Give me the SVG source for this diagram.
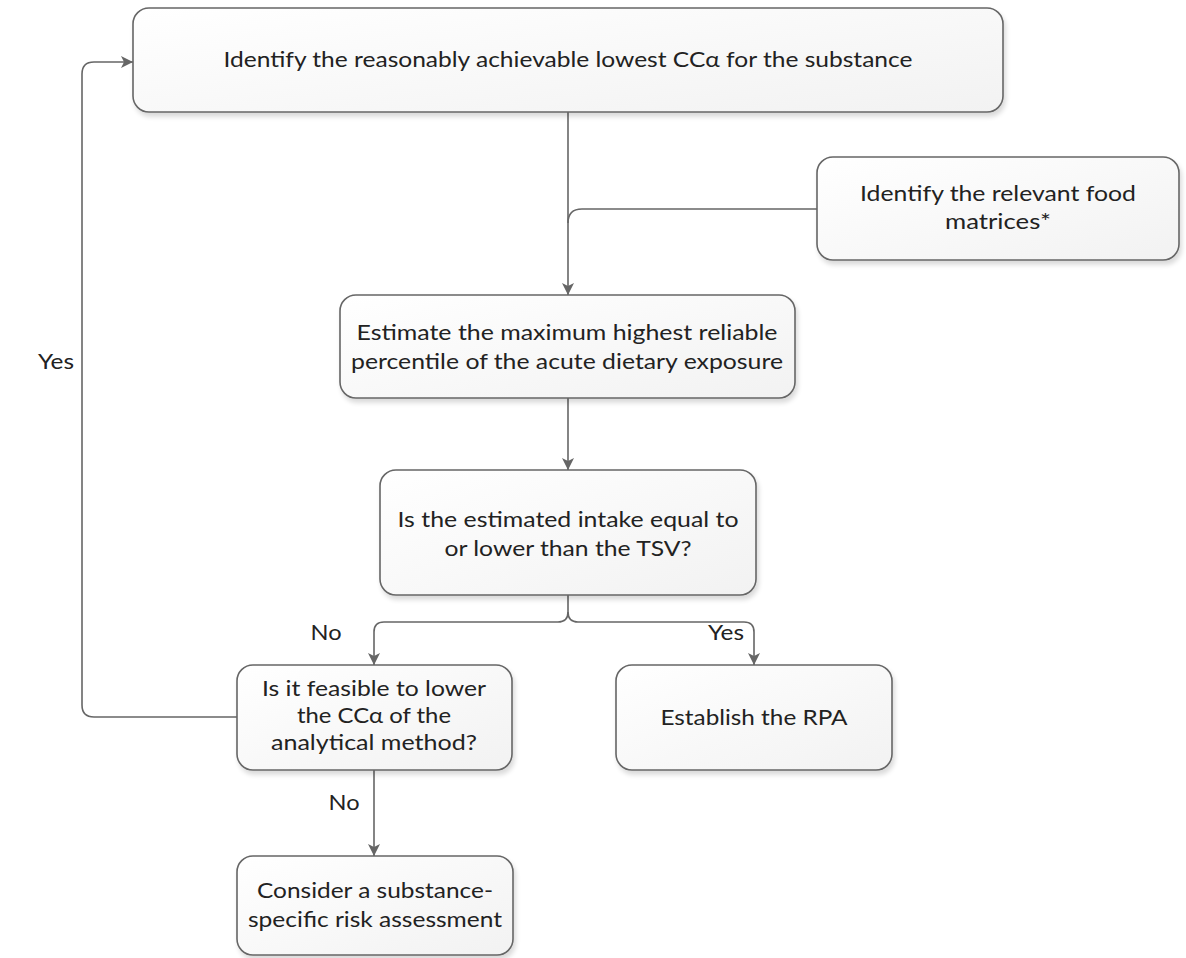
<svg xmlns="http://www.w3.org/2000/svg" width="1186" height="958" viewBox="0 0 1186 958">
<defs>
<linearGradient id="g" x1="0" y1="0" x2="1" y2="1">
<stop offset="0" stop-color="#ffffff"/>
<stop offset="1" stop-color="#f2f2f2"/>
</linearGradient>
<filter id="sh" x="-5%" y="-5%" width="115%" height="125%">
<feGaussianBlur in="SourceAlpha" stdDeviation="2.5"/>
<feOffset dx="2" dy="4"/>
<feComponentTransfer><feFuncA type="linear" slope="0.15"/></feComponentTransfer>
<feMerge><feMergeNode/><feMergeNode in="SourceGraphic"/></feMerge>
</filter>
<marker id="ah" viewBox="0 0 12 12" refX="12" refY="6" markerWidth="12" markerHeight="12" markerUnits="userSpaceOnUse" orient="auto">
<path d="M0,0 L12,6 L0,12 L3,6 Z" fill="#666666"/>
</marker>
</defs>
<style>
.box{fill:url(#g);stroke:#666666;stroke-width:1.6;filter:url(#sh)}
.t{font-family:Lato,"Open Sans","Liberation Sans",sans-serif;font-size:22px;fill:#222222;text-anchor:middle}
.c{fill:none;stroke:#666666;stroke-width:1.6}
</style>
<rect width="1186" height="958" fill="#ffffff"/>
<g id="connectors">
<path class="c" d="M568,112 V295" marker-end="url(#ah)"/>
<path class="c" d="M817,209 H582 Q568,209 568,223"/>
<path class="c" d="M568,398 V470" marker-end="url(#ah)"/>
<path class="c" d="M568,595 V612 Q568,622 558,622 H384 Q374,622 374,632 V665" marker-end="url(#ah)"/>
<path class="c" d="M568,612 Q568,622 578,622 H744 Q754,622 754,632 V665" marker-end="url(#ah)"/>
<path class="c" d="M237,717 H94 Q82,717 82,705 V74 Q82,62 94,62 H133" marker-end="url(#ah)"/>
<path class="c" d="M374,770 V856" marker-end="url(#ah)"/>
</g>
<g id="labels">
<text class="t" x="56" y="369" textLength="36" lengthAdjust="spacingAndGlyphs">Yes</text>
<text class="t" x="326" y="640" textLength="31" lengthAdjust="spacingAndGlyphs">No</text>
<text class="t" x="726" y="640" textLength="36" lengthAdjust="spacingAndGlyphs">Yes</text>
<text class="t" x="344" y="810" textLength="31" lengthAdjust="spacingAndGlyphs">No</text>
</g>
<g id="n1"><rect class="box" x="133" y="8" width="870" height="104" rx="16"/>
<text class="t" x="568" y="67" textLength="689" lengthAdjust="spacingAndGlyphs">Identify the reasonably achievable lowest CCα for the substance</text></g>
<g id="n2"><rect class="box" x="817" y="157" width="362" height="103" rx="16"/>
<text class="t" x="998" y="201" textLength="276" lengthAdjust="spacingAndGlyphs">Identify the relevant food</text>
<text class="t" x="998" y="229" textLength="106" lengthAdjust="spacingAndGlyphs">matrices*</text></g>
<g id="n3"><rect class="box" x="340" y="295" width="455" height="103" rx="16"/>
<text class="t" x="567" y="340" textLength="421" lengthAdjust="spacingAndGlyphs">Estimate the maximum highest reliable</text>
<text class="t" x="567" y="369" textLength="432" lengthAdjust="spacingAndGlyphs">percentile of the acute dietary exposure</text></g>
<g id="n4"><rect class="box" x="380" y="470" width="376" height="125" rx="16"/>
<text class="t" x="568" y="527" textLength="341" lengthAdjust="spacingAndGlyphs">Is the estimated intake equal to</text>
<text class="t" x="568" y="556" textLength="247" lengthAdjust="spacingAndGlyphs">or lower than the TSV?</text></g>
<g id="n5"><rect class="box" x="237" y="665" width="275" height="105" rx="16"/>
<text class="t" x="374" y="696" textLength="224" lengthAdjust="spacingAndGlyphs">Is it feasible to lower</text>
<text class="t" x="374" y="723" textLength="154" lengthAdjust="spacingAndGlyphs">the CCα of the</text>
<text class="t" x="374" y="750" textLength="206" lengthAdjust="spacingAndGlyphs">analytical method?</text></g>
<g id="n6"><rect class="box" x="616" y="665" width="276" height="105" rx="16"/>
<text class="t" x="754" y="725" textLength="187" lengthAdjust="spacingAndGlyphs">Establish the RPA</text></g>
<g id="n7"><rect class="box" x="237" y="856" width="276" height="99" rx="16"/>
<text class="t" x="375" y="898" textLength="236" lengthAdjust="spacingAndGlyphs">Consider a substance-</text>
<text class="t" x="375" y="927" textLength="254" lengthAdjust="spacingAndGlyphs">specific risk assessment</text></g>
</svg>
